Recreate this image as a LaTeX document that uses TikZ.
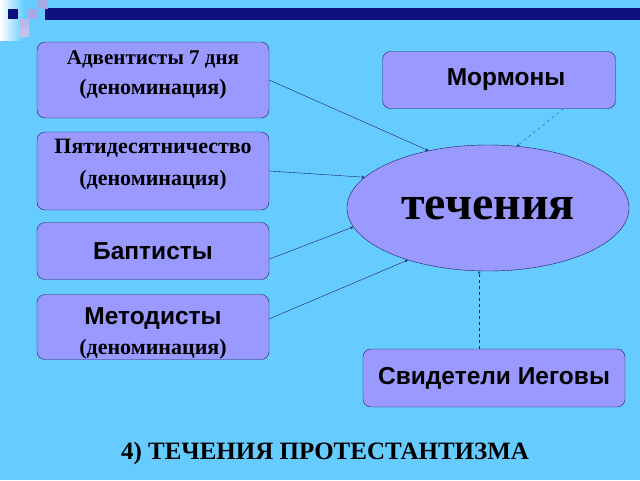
\documentclass[tikz,border=0pt]{standalone}
\usepackage{fontspec}
\setmainfont{Liberation Serif}
\setsansfont{Liberation Sans}
\usetikzlibrary{shapes.geometric}
\definecolor{fonblue}{HTML}{66CCFF}
\definecolor{boxlila}{HTML}{9999FF}
\definecolor{ramka}{HTML}{1F1F5C}
\definecolor{polosa}{HTML}{10107F}
\definecolor{kvlila}{HTML}{A8A8E6}
\begin{document}
\begin{tikzpicture}[
        x=1pt, y=-1pt,
        korob/.style={draw=ramka, fill=boxlila, rounded corners=8pt, minimum width=232pt, inner sep=0pt, align=center},
        serif/.style={font=\bfseries\fontsize{22}{30}\selectfont},
        sans/.style={font=\sffamily\bfseries\fontsize{24.5}{30}\selectfont},
        strelka/.style={draw=ramka, -stealth, thin},
        punktir/.style={draw=ramka, dashed, very thin, -stealth}
      ]
      \fill[fonblue] (0,0) rectangle (640,480);
      \shade[left color=white, right color=fonblue] (0,0) rectangle (24,40);
      \fill[polosa] (45,8) rectangle (640,20);
      \fill[kvlila] (38,0) rectangle (48,9);
      \fill[kvlila] (28,9) rectangle (38,19);
      \fill[kvlila!80!white] (20,19) rectangle (29,28);
      \fill[kvlila!70!white] (19,28) rectangle (29,37);
      \fill[polosa] (8,9) rectangle (18,19);
      \node[korob, serif, minimum height=76pt, text depth=14pt] (adv) at (153,80)
        {\fontsize{21}{30}\selectfont Адвентисты 7 дня\\ (деноминация)};
      \node[korob, serif, minimum height=78pt, text depth=18pt] (pyat) at (153,171)
        {Пятидесятничество\\[2pt] (деноминация)};
      \node[korob, sans, minimum height=57pt] (bapt) at (153,251) {Баптисты};
      \node[korob, sans, minimum height=65pt] (metod) at (153,327)
        {\rule{0pt}{29pt}Методисты\\ \rmfamily\fontsize{22}{30}\selectfont (деноминация)};
      \node[korob, sans, minimum width=233pt, minimum height=57pt] (mor) at (499,80)
        {\hspace*{14pt}Мормоны};
      \node[korob, sans, minimum width=262pt, minimum height=58pt] (svid) at (494,378)
        {Свидетели Иеговы};
      \node[ellipse, draw=ramka, fill=boxlila, minimum width=282pt, minimum height=126pt, inner sep=0pt,
        font=\bfseries\fontsize{48}{50}\selectfont] (tech) at (488,208) {течения};
      \node[font=\bfseries\fontsize{25}{28}\selectfont] (zag) at (325,453) {4) ТЕЧЕНИЯ ПРОТЕСТАНТИЗМА};
      \draw[strelka] (adv.east) -- (tech.136);
      \draw[strelka] (pyat.east) -- (tech.166);
      \draw[strelka] (bapt.-4) -- (tech.188);
      \draw[strelka] (metod.4) -- (tech.213);
      \draw[punktir] (mor.-24) -- (tech.65);
      \draw[punktir] (svid.north -| tech.262) -- (tech.262);
      \end{tikzpicture}
\end{document}
